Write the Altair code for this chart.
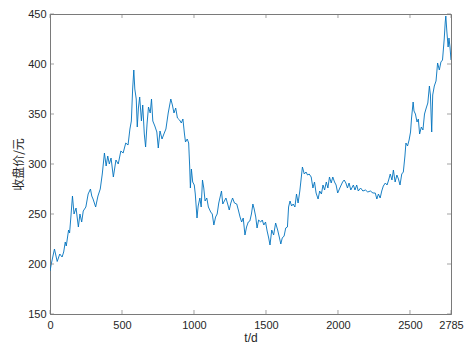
import altair as alt
import pandas as pd

# trading day index
t_days = [0, 9, 31, 50, 68, 84, 95, 106, 113, 129, 136, 145, 156, 167, 181, 197, 208, 220, 231, 249,
          265, 281, 290, 299, 317, 333, 349, 363, 378, 390, 401, 412, 424, 440, 458, 474, 492, 508, 526, 542,
          555, 565, 574, 582, 589, 599, 606, 614, 623, 635, 644, 655, 664, 674, 684, 696, 705, 714, 728, 742,
          752, 764, 778, 791, 805, 821, 839, 850, 861, 873, 885, 900, 912, 923, 934, 941, 953, 963, 970, 975,
          982, 991, 1002, 1009, 1021, 1029, 1041, 1050, 1059, 1068, 1077, 1089, 1100, 1116, 1127, 1138, 1150, 1161, 1172, 1191,
          1200, 1211, 1222, 1234, 1245, 1256, 1268, 1281, 1297, 1308, 1320, 1331, 1342, 1354, 1365, 1377, 1388, 1399, 1409, 1418,
          1429, 1438, 1449, 1463, 1474, 1485, 1497, 1508, 1519, 1528, 1540, 1553, 1567, 1581, 1594, 1603, 1613, 1626, 1637, 1649,
          1657, 1667, 1678, 1689, 1701, 1712, 1723, 1735, 1744, 1753, 1766, 1778, 1789, 1800, 1814, 1826, 1837, 1848, 1862, 1873,
          1885, 1896, 1907, 1919, 1930, 1941, 1953, 1964, 1976, 1987, 1998, 2016, 2032, 2043, 2055, 2066, 2077, 2089, 2107, 2118,
          2130, 2141, 2157, 2173, 2191, 2207, 2225, 2243, 2259, 2270, 2281, 2293, 2304, 2315, 2329, 2341, 2352, 2363, 2375, 2385,
          2397, 2409, 2420, 2431, 2443, 2454, 2465, 2472, 2483, 2494, 2504, 2511, 2522, 2528, 2538, 2549, 2558, 2567, 2579, 2590,
          2601, 2613, 2624, 2635, 2642, 2651, 2658, 2669, 2681, 2692, 2704, 2715, 2726, 2738, 2745, 2749, 2756, 2765, 2771, 2778,
          2785]

# closing price (yuan)
close_price = [193, 200, 215, 202.5, 210, 207, 212, 222, 218, 234, 231, 247, 268, 250, 256, 237, 250, 242, 253, 257,
               270, 275, 268, 265, 257, 268, 275, 290, 311, 298, 308, 300, 306, 287, 304, 300, 313, 311, 321, 319,
               335, 343, 375, 394, 375, 365, 337, 356, 367, 343, 359, 330, 317, 340, 357, 351, 365, 343, 338, 332,
               316, 333, 325, 330, 335, 351, 365, 359, 351, 356, 346, 344, 341, 345, 330, 322, 325, 321, 298, 276,
               295, 282, 279, 270, 246, 258, 266, 257, 284, 276, 263, 266, 257, 252, 250, 239, 247, 250, 261, 273,
               260, 263, 266, 260, 254, 261, 266, 261, 260, 254, 247, 242, 246, 229, 237, 242, 243, 250, 260, 255,
               247, 236, 244, 242, 244, 239, 242, 233, 226, 219, 234, 229, 241, 234, 226, 220, 226, 228, 236, 237,
               257, 263, 258, 260, 257, 270, 261, 273, 285, 297, 290, 292, 289, 290, 287, 276, 282, 271, 265, 273,
               270, 279, 274, 282, 276, 287, 281, 287, 282, 279, 271, 277, 282, 284, 281, 276, 281, 274, 279, 274,
               279, 273, 276, 273, 274, 272, 273, 271, 271, 265, 270, 266, 273, 278, 281, 279, 284, 290, 284, 294,
               282, 289, 285, 279, 290, 292, 308, 321, 318, 324, 332, 346, 362, 353, 350, 342, 345, 330, 337, 334,
               350, 356, 361, 378, 369, 332, 369, 378, 383, 401, 394, 402, 404, 425, 442, 448, 433, 417, 426, 417,
               404]

x_ticks = [0, 500, 1000, 1500, 2000, 2500, 2785]
y_ticks = [150, 200, 250, 300, 350, 400, 450]

assert len(t_days) == len(close_price)

df = pd.DataFrame({"t": t_days, "price": close_price})
xt = pd.DataFrame({"t": x_ticks})
yt = pd.DataFrame({"price": y_ticks})

PAD = {"left": 42, "top": 6, "right": 13, "bottom": 32}
W = 456 - PAD["left"] - PAD["right"]
H = 338 - PAD["top"] - PAD["bottom"]
FRAME = "#7a7a7a"
x_scale = alt.Scale(domain=[0, 2785], nice=False, zero=False)
y_scale = alt.Scale(domain=[150, 450], nice=False, zero=False)
x_axis = alt.Axis(values=x_ticks, title="t/d", ticks=False, grid=False, format="d",
                  labelFlush=False, labelOverlap=False, labelPadding=5, titlePadding=2)
y_axis = alt.Axis(values=y_ticks, title="收盘价/元", ticks=False, grid=False, format="d",
                  labelOverlap=False, labelPadding=4, titlePadding=2,
                  titleFont="Noto Sans CJK SC")

line = alt.Chart(df).mark_line(color="#0072BD", strokeWidth=0.9, clip=True).encode(
    x=alt.X("t:Q", scale=x_scale, axis=x_axis),
    y=alt.Y("price:Q", scale=y_scale, axis=y_axis),
)

tick_style = dict(size=4, thickness=1, color=FRAME)
bottom_ticks = alt.Chart(xt).mark_tick(orient="vertical", **tick_style).encode(
    x=alt.X("t:Q", scale=x_scale, axis=x_axis), y=alt.value(H - 2))
top_ticks = alt.Chart(xt).mark_tick(orient="vertical", **tick_style).encode(
    x=alt.X("t:Q", scale=x_scale, axis=x_axis), y=alt.value(2))
left_ticks = alt.Chart(yt).mark_tick(orient="horizontal", **tick_style).encode(
    y=alt.Y("price:Q", scale=y_scale, axis=y_axis), x=alt.value(2))
right_ticks = alt.Chart(yt).mark_tick(orient="horizontal", **tick_style).encode(
    y=alt.Y("price:Q", scale=y_scale, axis=y_axis), x=alt.value(W - 2))

chart = alt.layer(line, bottom_ticks, top_ticks, left_ticks, right_ticks).properties(
    width=W, height=H,
    autosize=alt.AutoSizeParams(type="none"),
    padding=PAD,
).configure_view(
    stroke=FRAME, strokeWidth=1
).configure_axis(
    domainColor=FRAME, domainWidth=1,
    labelFont="Liberation Sans", labelFontSize=11, labelColor="#262626",
    titleFont="Liberation Sans", titleFontSize=12, titleFontWeight="normal", titleColor="#262626",
)

chart.save("out.html", embed_options={"renderer": "svg", "actions": False})
